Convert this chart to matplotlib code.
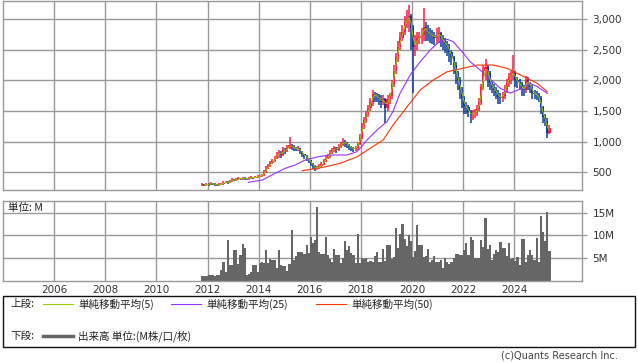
import matplotlib
matplotlib.use("Agg")
from matplotlib import pyplot as plt
from matplotlib.lines import Line2D
from matplotlib.patches import Rectangle
import numpy as np
import pandas as pd

# monthly candles, first month = 2011-10
start_year = 2011.75

close = [300,290,310,300,320,310,300,290,300,310,
         330,340,330,350,380,370,380,400,390,410,
         400,390,400,420,410,420,430,440,450,500,
         560,600,650,680,720,780,820,780,870,850,
         900,950,920,900,880,890,850,800,770,740,
         700,650,610,560,570,600,630,680,720,760,
         820,860,890,870,920,950,990,980,950,920,
         900,880,900,960,1080,1250,1350,1450,1550,1650,
         1780,1760,1740,1700,1650,1700,1550,1690,1750,1950,
         2150,2380,2550,2700,2800,2950,3000,3050,2850,2550,
         2600,2700,2720,2750,2880,2820,2770,2750,2730,2700,
         2740,2770,2700,2640,2600,2550,2460,2380,2260,2130,
         2000,1860,1720,1580,1560,1480,1440,1450,1470,1540,
         1650,1900,2150,2220,2120,1960,1900,1850,1800,1730,
         1720,1750,1850,1960,2050,2100,2140,2000,1970,1950,
         1870,1850,2000,1960,1900,1800,1780,1760,1720,1560,
         1400,1340,1150,1220]

high = [320,310,330,320,340,330,320,310,320,330,
        350,360,350,370,400,390,400,420,410,430,
        420,410,420,440,430,440,450,460,480,530,
        600,640,690,720,770,830,870,840,910,900,
        950,1080,960,940,920,930,900,850,800,780,
        740,700,650,620,600,640,670,720,760,800,
        860,900,930,920,960,1000,1060,1020,990,960,
        930,910,930,1000,1130,1300,1400,1500,1600,1720,
        1850,1820,1800,1780,1760,1760,1720,1760,1800,2000,
        2250,2450,2650,2800,2900,3050,3150,3230,3080,2900,
        2750,2800,2800,2850,3180,2950,2900,2850,2820,2800,
        2850,2870,2800,2750,2700,2650,2600,2500,2400,2300,
        2150,2050,1900,1750,1650,1600,1520,1520,1530,1600,
        1720,1950,2250,2350,2250,2150,2000,1950,1900,1850,
        1800,1820,1920,2020,2120,2160,2420,2150,2050,2020,
        1980,1920,2080,2050,1980,1920,1850,1830,1800,1750,
        1580,1450,1380,1280]

low = [280,270,280,280,290,290,280,270,280,290,
       300,320,310,320,340,350,360,370,370,380,
       380,370,380,390,390,400,410,420,430,440,
       490,550,590,640,670,710,740,740,760,800,
       830,880,870,850,840,840,800,750,720,690,
       650,600,560,520,530,550,590,620,670,710,
       740,800,830,820,840,890,930,920,900,870,
       850,830,850,870,940,1050,1200,1300,1400,1500,
       1580,1650,1650,1600,1550,1600,1300,1500,1620,1700,
       1900,2100,2300,2500,2650,2750,2850,2800,2500,1800,
       2400,2500,2600,2600,2650,2650,2650,2620,2600,2580,
       2600,2620,2550,2500,2450,2400,2300,2250,2100,1950,
       1850,1700,1550,1450,1450,1400,1300,1350,1380,1420,
       1500,1600,1850,2000,1900,1850,1800,1750,1700,1620,
       1620,1650,1700,1800,1900,1950,2000,1900,1880,1850,
       1750,1750,1800,1850,1800,1700,1700,1680,1650,1450,
       1300,1250,1055,1120]

# volume (M shares)
volume = [1.0,1.0,1.1,1.2,1.2,1.2,1.1,1.2,1.3,2.35,
          4.1,2.0,9.0,3.5,3.5,6.8,6.8,3.6,5.7,8.1,
          7.1,1.3,1.5,2.0,3.5,3.5,2.0,4.0,4.2,3.8,
          6.8,4.0,4.8,4.6,4.6,2.7,6.8,3.5,3.3,3.2,
          2.2,3.6,11.2,4.6,5.4,6.4,6.4,6.4,5.8,7.9,
          6.2,9.6,8.2,9.0,16.3,6.4,5.9,5.9,9.7,5.7,
          4.7,4.2,7.0,5.7,5.7,3.8,4.9,8.8,6.8,7.6,
          6.0,5.7,4.0,10.3,4.0,5.1,4.7,4.9,4.2,4.3,
          4.2,5.4,6.4,4.2,4.2,7.0,4.3,7.9,7.9,4.8,
          5.3,11.5,7.1,10.3,12.5,9.1,7.6,10.1,8.8,5.3,
          6.5,12.3,7.9,7.9,5.3,5.4,6.9,4.2,4.6,5.4,
          4.2,4.2,4.6,2.9,5.1,4.2,3.7,4.2,4.9,5.9,
          5.9,5.7,5.7,6.8,8.4,5.7,9.7,9.0,4.9,4.9,
          4.9,9.0,7.5,13.9,6.9,7.9,4.6,5.9,6.8,6.4,
          8.5,7.1,7.1,5.4,8.2,4.7,5.1,4.3,5.3,3.5,
          9.1,9.1,4.2,5.7,6.8,5.7,4.6,9.3,4.2,14.3,
          10.8,8.8,15.1,6.5]

# moving averages
ma25_t = [2013.60,2014.15,2014.65,2015.04,2015.43,2015.82,2016.33,2016.80,2017.46,2017.85,
          2018.24,2018.63,2019.02,2019.26,2019.53,2019.93,2020.32,2020.71,2021.02,2021.38,
          2021.61,2022.00,2022.27,2022.66,2023.17,2023.44,2023.84,2024.23,2024.62,2024.90,2025.29]
ma25_v = [337,374,484,565,619,700,755,783,783,837,
          1028,1191,1327,1500,1790,2090,2307,2498,2618,2673,
          2634,2450,2307,2172,1981,1876,1794,1860,1954,1899,1791]

ma50_t = [2015.71,2016.53,2017.19,2017.86,2018.36,2018.87,2019.26,2019.81,2020.32,2020.83,
          2021.38,2021.89,2022.55,2023.17,2023.72,2024.11,2024.50,2024.90,2025.29]
ma50_v = [527,582,647,755,892,1028,1273,1572,1845,2008,
          2144,2190,2253,2253,2199,2118,2036,1954,1817]

price_ticks = [500, 1000, 1500, 2000, 2500, 3000]
vol_ticks = [5, 10, 15]
years = list(range(2006, 2025, 2))

W, H = 638, 362
grid_c = '#999999'
txt_c = '#333333'
jp = ['Noto Sans CJK JP', 'DejaVu Sans']
fs_jp = 7.6

n = len(close)
t = start_year + (np.arange(n) + 0.5) / 12.0
opn = [close[0]] + close[:-1]
ma5 = pd.Series(close).rolling(2).mean()

fig = plt.figure(figsize=(W / 100, H / 100), dpi=100)
ax1 = fig.add_axes([3 / W, 1 - 190.3 / H, 579.3 / W, 189.8 / H])
ax2 = fig.add_axes([3 / W, 1 - 280.7 / H, 579.3 / W, 79.7 / H])

for ax in (ax1, ax2):
    ax.set_xlim(2004.0, 2026.66)
    ax.set_xticks(years)
    ax.grid(True, color=grid_c, lw=1.0)
    ax.set_axisbelow(True)
    for s in ax.spines.values():
        s.set_color(grid_c)
        s.set_linewidth(1.0)
    ax.yaxis.tick_right()
    ax.tick_params(axis='y', length=3.3, width=1.0, color=grid_c, pad=4,
                   labelsize=7.5, labelcolor=txt_c)
    ax.tick_params(axis='x', length=0)

# candles
up = [c >= o for o, c in zip(opn, close)]
cols = ['#ff1744' if u else '#0a3a9e' for u in up]
ax1.vlines(t, low, high, colors=cols, lw=1.1)
body_lo = [min(o, c) for o, c in zip(opn, close)]
body_h = [max(abs(c - o), 15) for o, c in zip(opn, close)]
ax1.bar(t, body_h, bottom=body_lo, width=1 / 12.0, color=cols, linewidth=0)

ax1.plot(ma50_t, ma50_v, color='#ff3300', lw=0.8)
ax1.plot(ma25_t, ma25_v, color='#9933ff', lw=0.8)
ax1.plot(t, ma5, color='#99cc00', lw=0.7)

ax1.set_ylim(206, 3307)
ax1.set_yticks(price_ticks)
ax1.set_yticklabels([f'{v:,}' for v in price_ticks])
ax1.tick_params(axis='x', labelbottom=False)

# volume
ax2.bar(t, volume, width=1 / 12.0, color='#666666', linewidth=0)
ax2.set_ylim(0, 17.55)
ax2.set_yticks(vol_ticks)
ax2.set_yticklabels([f'{v}M' for v in vol_ticks])
ax2.set_xticklabels([str(y) for y in years])
ax2.tick_params(axis='x', labelsize=7.5, labelcolor=txt_c, pad=3)
fig.text(8 / W, 1 - 208 / H, '単位: M', family=jp, fontsize=fs_jp, color='#222222',
         va='center', ha='left')

# legend box
fig.patches.append(Rectangle((3 / W, 1 - 347 / H), 632 / W, 51 / H,
                             transform=fig.transFigure, fill=False,
                             edgecolor='#111111', lw=1.0))
row1 = 1 - 304 / H
row2 = 1 - 336 / H
fig.text(10 / W, row1, '上段:', family=jp, fontsize=fs_jp, va='center', color='#222222')
fig.text(10 / W, row2, '下段:', family=jp, fontsize=fs_jp, va='center', color='#222222')
items = [(43, '#99cc00', '単純移動平均(5)'),
         (171, '#9933ff', '単純移動平均(25)'),
         (316, '#ff3300', '単純移動平均(50)')]
for x0, c, lab in items:
    fig.lines.append(Line2D([x0 / W, (x0 + 30) / W], [row1, row1],
                            transform=fig.transFigure, color=c, lw=0.8))
    fig.text((x0 + 35) / W, row1, lab, family=jp, fontsize=fs_jp, va='center', color='#222222')
fig.lines.append(Line2D([43 / W, 73 / W], [row2, row2], transform=fig.transFigure,
                        color='#666666', lw=2.5))
fig.text(78 / W, row2, '出来高 単位:(M株/口/枚)', family=jp, fontsize=fs_jp,
         va='center', color='#222222')

fig.text(618 / W, 1 - 356 / H, '(c)Quants Research Inc.', fontsize=7,
         ha='right', va='center', color='#444444')

fig.savefig('out.png', dpi=100)
